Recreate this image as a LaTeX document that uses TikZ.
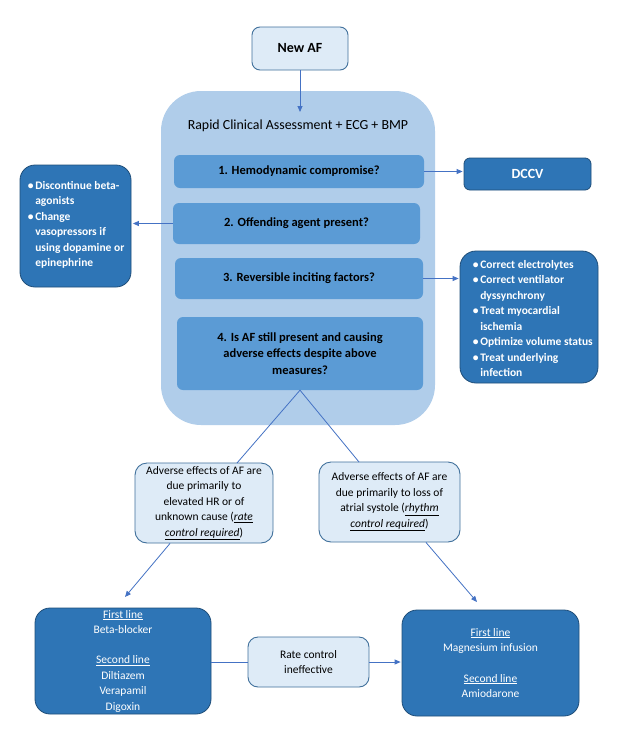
\documentclass[tikz,border=0pt]{standalone}
\usepackage{fontspec}
\setmainfont{Carlito}
\usetikzlibrary{arrows.meta,calc}
\definecolor{darkfill}{HTML}{2E75B6}
\definecolor{darkline}{HTML}{1F4E79}
\definecolor{lightfill}{HTML}{DEEBF7}
\definecolor{lightline}{HTML}{41719C}
\definecolor{contfill}{HTML}{B0CDEA}
\definecolor{midfill}{HTML}{5B9BD5}
\definecolor{conn}{HTML}{4472C4}
\newcommand\fsA{\fontsize{11.5}{15.5}\selectfont}
\newcommand\fsQ{\fontsize{12.5}{16.5}\selectfont}
\newcommand\bul{\makebox[7.5pt][l]{\textbullet}}
\newcommand\ind{\hspace*{7.5pt}}
\newcommand\ui[1]{\underline{\textit{#1}}}
\tikzset{
  lightbox/.style={draw=lightline, line width=0.9pt, fill=lightfill, align=center, inner sep=0pt, font=\fsA},
  darkbox/.style={draw=darkline, line width=0.8pt, fill=darkfill, text=white, align=center, inner sep=0pt, font=\fsA},
  qbox/.style={fill=midfill, rounded corners=6pt, align=center, inner sep=0pt, font=\fsQ\bfseries},
  conline/.style={draw=conn, line width=0.8pt},
  conarrow/.style={conline, -{Triangle[length=6pt,width=5pt]}},
  bultext/.style={text=white, align=left, inner sep=0pt, font=\fsA\bfseries, anchor=west},
}
\begin{document}
\begin{tikzpicture}[x=1pt,y=-1pt]
\useasboundingbox (0,0) rectangle (621,753);
\fill[white] (0,0) rectangle (621,753);
% container
\node[fill=contfill, rounded corners=40pt, minimum width=274pt, minimum height=334pt, inner sep=0pt] (cont) at (298,258) {};
\node[font=\fontsize{13.9}{16}\selectfont, inner sep=0pt] (title) at (298,126) {Rapid Clinical Assessment + ECG + BMP};
% New AF
\node[lightbox, rounded corners=8pt, minimum width=96pt, minimum height=43pt, font=\fontsize{14}{16}\selectfont\bfseries] (newaf) at (300,48.5) {New AF};
\coordinate (aftip) at (300,112);
\draw[conarrow] (newaf.south) -- (aftip);
% questions
\node[qbox, minimum width=250pt, minimum height=33pt] (q1) at (299,171.5) {1. Hemodynamic compromise?};
\node[qbox, minimum width=247pt, minimum height=41pt] (q2) at (296.5,223.5) {2. Offending agent present?};
\node[qbox, minimum width=248pt, minimum height=41pt] (q3) at (299,278.5) {3. Reversible inciting factors?};
\node[qbox, minimum width=246pt, minimum height=73pt] (q4) at (300,353.5) {4. Is AF still present and causing\\adverse effects despite above\\measures?};
% side boxes
\node[darkbox, rounded corners=15pt, minimum width=111pt, minimum height=122pt] (lb) at (75.5,226) {};
\node[bultext] (lbt) at ($(lb.west)+(8,-1)$) {\bul Discontinue beta-\\\ind agonists\\\bul Change\\\ind vasopressors if\\\ind using dopamine or\\\ind epinephrine};
\node[darkbox, rounded corners=6pt, minimum width=127pt, minimum height=32pt, font=\fontsize{14}{16}\selectfont\bfseries] (dccv) at (527.5,174) {DCCV};
\node[darkbox, rounded corners=16pt, minimum width=138pt, minimum height=132pt] (rb) at (529,317) {};
\node[bultext] (rbt) at ($(rb.west)+(13,1.5)$) {\bul Correct electrolytes\\\bul Correct ventilator\\\ind dyssynchrony\\\bul Treat myocardial\\\ind ischemia\\\bul Optimize volume status\\\bul Treat underlying\\\ind infection};
\draw[conarrow] (q1.east) -- ($(q1.east -| dccv.west)+(-1,0)$);
\draw[conarrow] (q2.west) -- ($(q2.west -| lb.east)+(1.5,0)$);
\draw[conarrow] (q3.east) -- ($(q3.east -| rb.west)+(-1,0)$);
% adverse boxes
\node[lightbox, rounded corners=12pt, minimum width=138pt, minimum height=80pt] (al) at (204,503) {Adverse effects of AF are\\due primarily to\\elevated HR or of\\unknown cause (\ui{rate}\\\ui{control required})};
\node[lightbox, rounded corners=12pt, minimum width=141pt, minimum height=80pt] (ar) at (389.5,502) {Adverse effects of AF are\\due primarily to loss of\\atrial systole (\ui{rhythm}\\\ui{control required})};
\coordinate (alt) at (237,463);
\coordinate (art) at (359,462);
\draw[conline] (alt) -- (q4.south) -- (art);
% bottom boxes
\node[darkbox, rounded corners=15pt, minimum width=176pt, minimum height=106pt] (bl) at (123,661) {\underline{First line}\\Beta-blocker\\[14.5pt]\underline{Second line}\\Diltiazem\\Verapamil\\Digoxin};
\node[lightbox, rounded corners=10pt, minimum width=121pt, minimum height=50pt] (mid) at (308.5,662) {Rate control\\ineffective};
\node[darkbox, rounded corners=15pt, minimum width=177pt, minimum height=106pt] (br) at (490.5,663) {\underline{First line}\\Magnesium infusion\\[15pt]\underline{Second line}\\Amiodarone};
\coordinate (blt) at (125,597);
\coordinate (brt) at (477,602);
\draw[conarrow] ($(al.south)+(-34,0)$) -- (blt);
\draw[conarrow] ($(ar.south)+(36.5,0)$) -- (brt);
\draw[conline] (mid.west) -- (mid.west -| bl.east);
\draw[conarrow] (mid.east) -- ($(mid.east -| br.west)+(-1,0)$);
\end{tikzpicture}
\end{document}
